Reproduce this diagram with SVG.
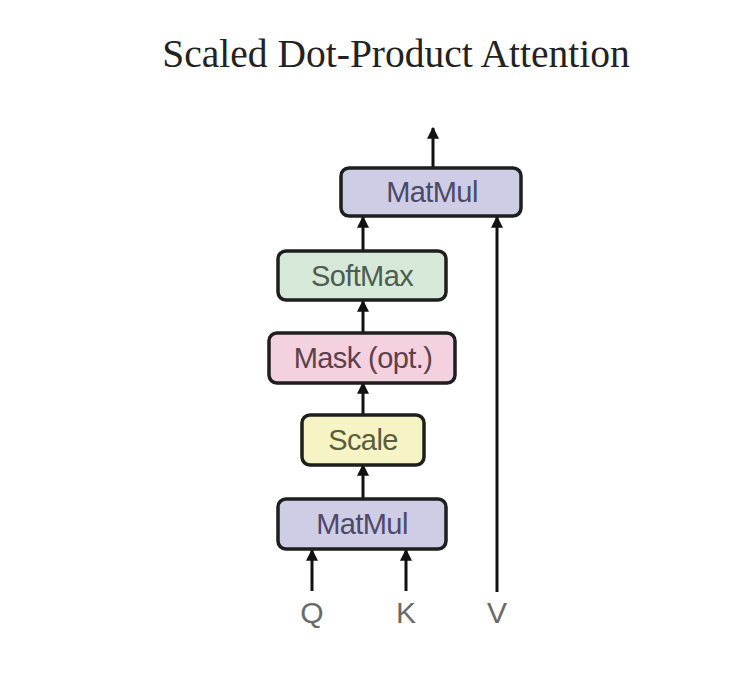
<svg xmlns="http://www.w3.org/2000/svg" width="746" height="686" viewBox="0 0 746 686">
<style>
.box{stroke:#1e1e1e;stroke-width:3.5}
.lbl{font-family:"Liberation Sans",Arial,sans-serif;font-size:29px;text-anchor:middle;letter-spacing:-0.6px}
.io{font-family:"Liberation Sans",Arial,sans-serif;font-size:30px;text-anchor:middle;fill:#6a6a6a}
.edge{stroke:#111;stroke-width:3;fill:none;marker-end:url(#ah)}
</style>
<defs>
<marker id="ah" viewBox="0 0 10 10" refX="9" refY="5" markerWidth="4" markerHeight="4" orient="auto" markerUnits="strokeWidth">
<path d="M0,0 L10,5 L0,10 z" fill="#111"/>
</marker>
</defs>
<rect width="746" height="686" fill="#ffffff"/>
<text x="396" y="67" font-family="'Liberation Serif','Times New Roman',serif" font-size="39.5" text-anchor="middle" fill="#222">Scaled Dot-Product Attention</text>
<g id="connectors">
<line class="edge" x1="433" y1="167" x2="433" y2="128"/>
<line class="edge" x1="363" y1="251" x2="363" y2="217"/>
<line class="edge" x1="363" y1="333" x2="363" y2="301"/>
<line class="edge" x1="363" y1="415" x2="363" y2="383"/>
<line class="edge" x1="363" y1="499" x2="363" y2="465"/>
<line class="edge" x1="312" y1="591" x2="312" y2="550"/>
<line class="edge" x1="406" y1="591" x2="406" y2="550"/>
<line class="edge" x1="497" y1="592" x2="497" y2="217"/>
</g>
<g id="matmul-top">
<rect class="box" x="341" y="168" width="180" height="48" rx="8" fill="#cfcce6"/>
<text class="lbl" x="432" y="202" fill="#4c4a68">MatMul</text>
</g>
<g id="softmax">
<rect class="box" x="278" y="251" width="168" height="49" rx="8" fill="#d6e9d8"/>
<text class="lbl" x="362" y="286" fill="#4d5c4f">SoftMax</text>
</g>
<g id="mask">
<rect class="box" x="269" y="333" width="186" height="50" rx="8" fill="#f3d1de"/>
<text class="lbl" x="363" y="368" fill="#5e3f4c">Mask (opt.)</text>
</g>
<g id="scale">
<rect class="box" x="302" y="415" width="122" height="50" rx="8" fill="#f6f4c4"/>
<text class="lbl" x="363" y="450" fill="#5c5b3c">Scale</text>
</g>
<g id="matmul-bottom">
<rect class="box" x="278" y="499" width="168" height="50" rx="8" fill="#cfcce6"/>
<text class="lbl" x="362" y="534" fill="#4c4a68">MatMul</text>
</g>
<g id="q"><text class="io" x="312" y="623">Q</text></g>
<g id="k"><text class="io" x="406" y="623">K</text></g>
<g id="v"><text class="io" x="497" y="623">V</text></g>
</svg>
